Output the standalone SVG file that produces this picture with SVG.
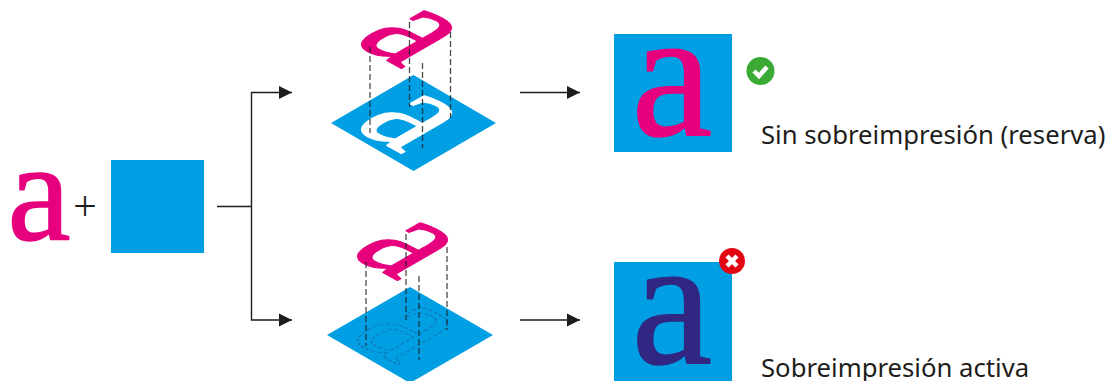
<svg xmlns="http://www.w3.org/2000/svg" width="1110" height="381" viewBox="0 0 1110 381">
<defs>
<style>
.gl{font-family:"Liberation Serif",serif;stroke-linejoin:round}
.m{fill:#e6007e;stroke:#e6007e}
.lab{font-family:"Noto Sans","Open Sans",sans-serif;font-size:25.700px;fill:#1d1d1b}
.cyan{fill:#009fe3}
.ln{fill:none;stroke:#1d1d1b;stroke-width:1.4}
.dash{fill:none;stroke:#1d1d1b;stroke-width:1.300;stroke-dasharray:6 3;opacity:.8}
</style>
<marker id="ah" markerUnits="userSpaceOnUse" markerWidth="14" markerHeight="14" refX="13" refY="7" orient="auto"><path d="M0 0.500L13 7L0 13.500Z" fill="#1d1d1b"/></marker>
</defs>
<rect width="1110" height="381" fill="#fff"/>
<g id="source">
<text class="gl m" x="7.500" y="240" font-size="142" stroke-width="1.500">a</text>
<text x="73" y="221" font-family="Noto Sans,sans-serif" font-weight="300" font-size="42" fill="#1d1d1b">+</text>
<rect class="cyan" x="111" y="160" width="93" height="93"/>
</g>
<g id="connectors">
<path class="ln" d="M217 206.500H251.500"/>
<path class="ln" marker-end="url(#ah)" d="M251.500 206.500V92.500H292"/>
<path class="ln" marker-end="url(#ah)" d="M251.500 206.500V320H292"/>
<path class="ln" marker-end="url(#ah)" d="M520 92.500H580"/>
<path class="ln" marker-end="url(#ah)" d="M520 320H580"/>
</g>
<g id="knockout">
<path class="cyan" d="M331 123L413.500 75L496 123L413.500 171Z"/>
<text class="gl" fill="#fff" stroke="#fff" stroke-width="1.200" font-size="128" transform="matrix(.92 .5 -1.08 .62 351 126)">a</text>
<text class="gl m" stroke-width="1.200" font-size="128" transform="matrix(.92 .5 -1.08 .62 351 41)">a</text>
<path class="dash" d="M370 47V133M409.500 22V107M422.500 63V148M450.500 32V118"/>
</g>
<g id="overprint">
<path class="cyan" d="M327 335L410 287L493 335L410 383Z"/>
<text class="gl" fill="none" stroke="#1d5f96" stroke-width=".7" stroke-dasharray="3 2" font-size="128" transform="matrix(.92 .5 -1.08 .62 347 337)">a</text>
<text class="gl m" stroke-width="1.200" font-size="128" transform="matrix(.92 .5 -1.08 .62 347 253)">a</text>
<path class="dash" d="M366 262V346M406 234V320M419 276V360M447 247V330"/>
</g>
<g id="result-ok">
<rect class="cyan" x="614" y="34" width="118" height="118"/>
<text class="gl m" x="631.500" y="135" font-size="182" stroke-width="1.500">a</text>
<circle cx="760.500" cy="71" r="14" fill="#3aaa35"/>
<path d="M754 71L759 76L767 67" fill="none" stroke="#fff" stroke-width="4.500"/>
<text class="lab" x="761" y="144">Sin sobreimpresión (reserva)</text>
</g>
<g id="result-bad">
<rect class="cyan" x="614" y="262" width="118" height="119"/>
<text class="gl" fill="#312783" stroke="#312783" x="631.500" y="363" font-size="182" stroke-width="1.500">a</text>
<circle cx="732" cy="261" r="13" fill="#e30613"/>
<path d="M727 256L737 266M737 256L727 266" fill="none" stroke="#fff" stroke-width="4.500"/>
<text class="lab" x="761" y="377">Sobreimpresión activa</text>
</g>
</svg>
